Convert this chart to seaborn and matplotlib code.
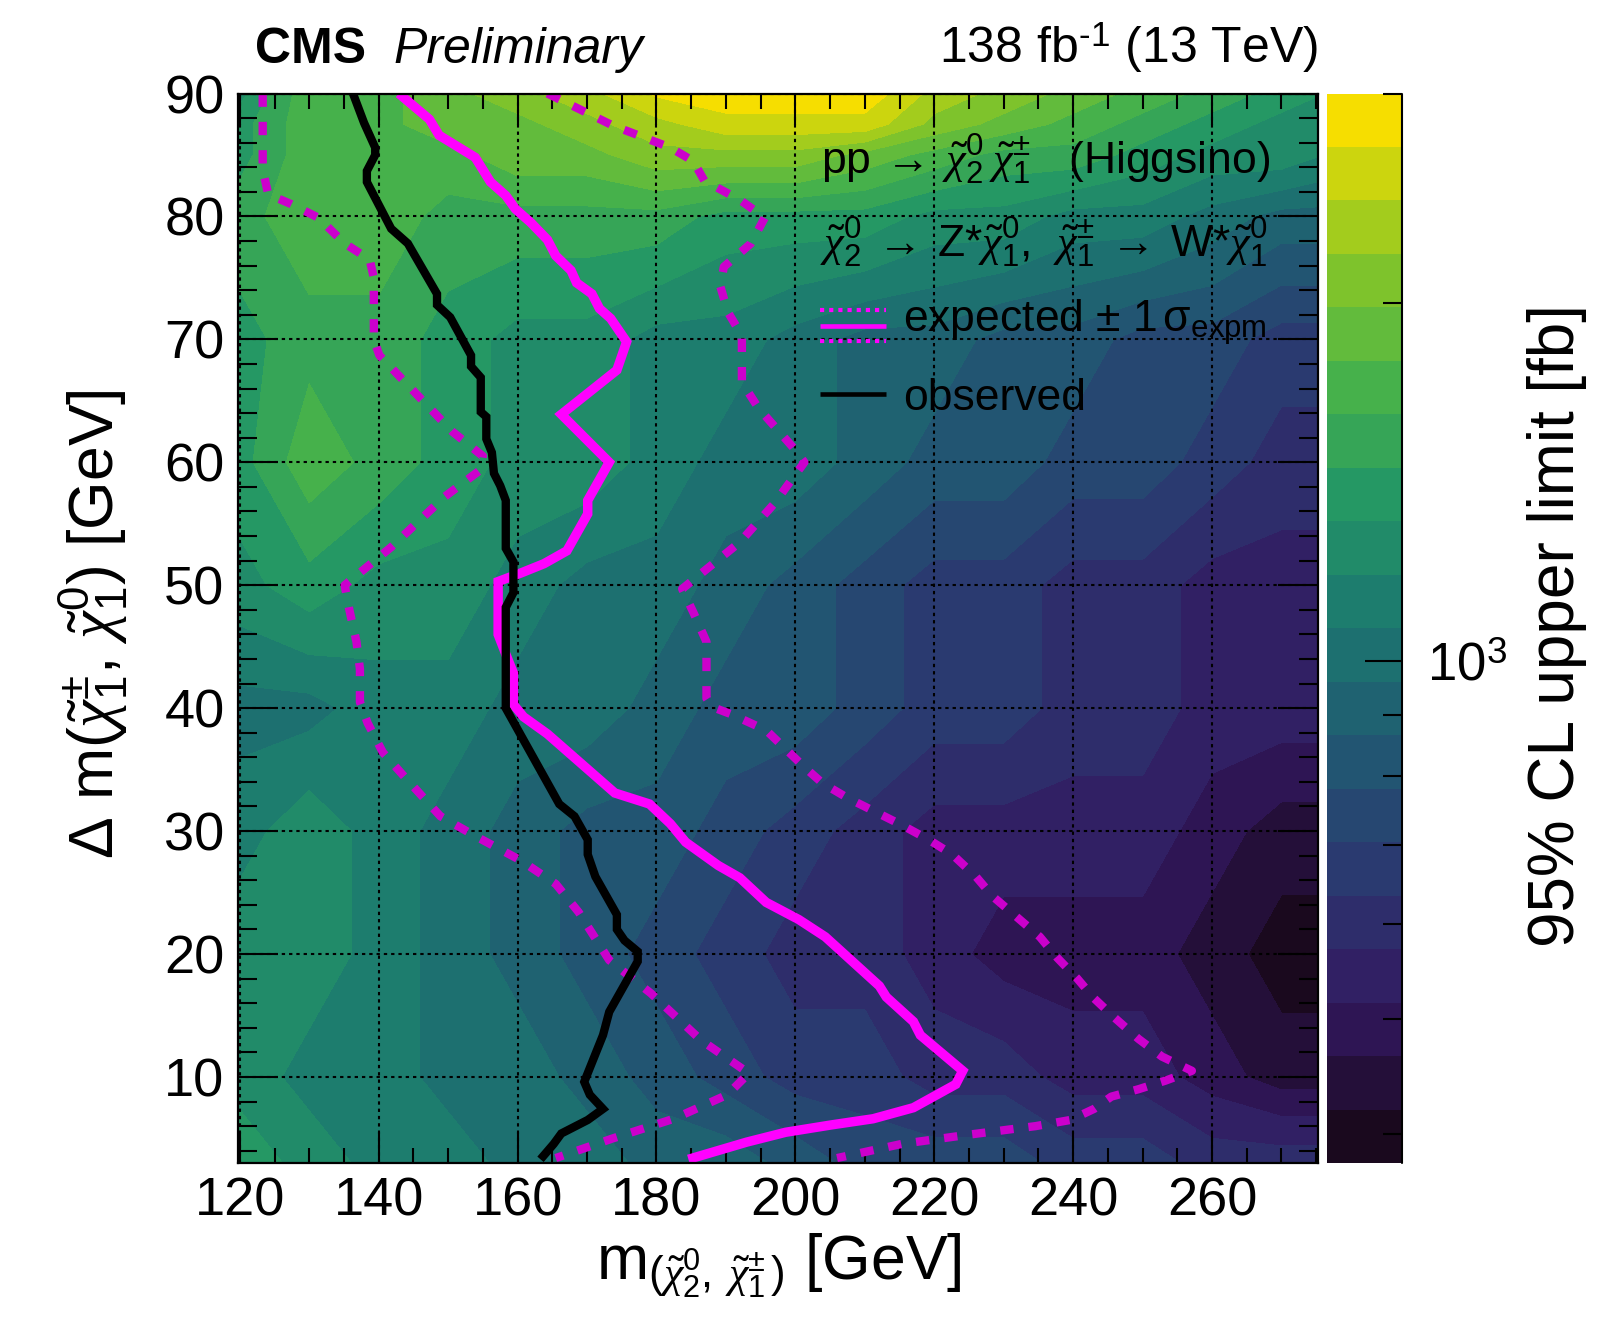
import numpy as np
import matplotlib
matplotlib.use("Agg")
import matplotlib.pyplot as plt
from matplotlib.colors import LinearSegmentedColormap, ListedColormap, LogNorm
from matplotlib.ticker import FixedLocator, MultipleLocator, NullFormatter
from matplotlib.lines import Line2D
import seaborn as sns

# ---------------------------------------------------------------------------
# Signal grid: mean chargino/neutralino mass and mass splitting (GeV)
mass_points = [120, 130, 140, 150, 160, 170, 180, 190, 200, 210,
               220, 230, 240, 250, 260, 270, 280]
dm_points = [3, 10, 20, 30, 40, 50, 60, 70, 80, 85, 87.5, 90]

# 95% CL upper limits on the cross section (fb), one row per mass splitting
ul_dm3 = [1390, 1260, 1130, 1130, 1020, 1020, 920, 920, 830, 745, 745, 745, 670, 670, 605, 605, 605]
ul_dm10 = [1260, 1130, 1130, 1020, 1020, 920, 830, 745, 670, 670, 605, 605, 545, 545, 490, 440, 440]
ul_dm20 = [1260, 1260, 1130, 1020, 920, 830, 745, 670, 605, 605, 545, 490, 490, 490, 440, 400, 400]
ul_dm30 = [1130, 1260, 1130, 1020, 920, 830, 830, 745, 670, 605, 545, 545, 545, 545, 490, 440, 440]
ul_dm40 = [1020, 1020, 1130, 1130, 1020, 1020, 920, 830, 830, 745, 670, 670, 605, 605, 545, 545, 545]
ul_dm50 = [1260, 1390, 1260, 1260, 1130, 1020, 1020, 920, 830, 745, 670, 670, 605, 605, 545, 545, 545]
ul_dm60 = [1390, 1720, 1550, 1390, 1260, 1260, 1130, 1020, 1020, 920, 830, 830, 745, 745, 670, 605, 605]
ul_dm70 = [1390, 1550, 1550, 1390, 1260, 1260, 1130, 1130, 1020, 920, 920, 830, 830, 745, 745, 670, 670]
ul_dm80 = [1550, 1720, 1720, 1550, 1550, 1550, 1550, 1390, 1390, 1390, 1260, 1260, 1130, 1130, 1020, 920, 920]
ul_dm85 = [1390, 1720, 1720, 1720, 1910, 1910, 2120, 2120, 2120, 1910, 1720, 1550, 1550, 1390, 1260, 1260, 1130]
ul_dm87 = [1390, 1720, 1720, 1910, 1910, 2120, 2350, 2600, 2600, 2600, 2120, 1910, 1720, 1550, 1390, 1260, 1260]
ul_dm90 = [1260, 1720, 1720, 1910, 2120, 2350, 2750, 2890, 2890, 2890, 2350, 2120, 1910, 1720, 1550, 1390, 1260]

# Exclusion contours (mass, mass splitting)
obs_mass = [136.3, 137.9, 139.5, 139.5, 138.3, 138.3, 141.8, 144.2, 148.4, 148.4, 150.3, 153.3,
            153.3, 154.7, 154.7, 155.5, 155.5, 156.3, 156.6, 157.5, 158.3, 158.3, 159.4, 159.4,
            158.3, 158.3, 166.0, 168.2, 170.1, 170.1, 171.2, 174.3, 174.3, 175.4, 177.3, 177.3,
            173.2, 172.3, 169.6, 170.4, 172.3, 170.1, 166.3, 165.2, 163.3]
obs_dm = [90.0, 87.6, 85.6, 85.0, 83.7, 82.8, 79.0, 77.8, 73.7, 72.8, 71.8, 68.7,
          67.8, 66.9, 64.1, 63.7, 61.9, 60.8, 59.1, 58.1, 56.9, 53.0, 51.9, 49.4,
          48.2, 40.0, 32.2, 31.2, 29.3, 28.1, 26.3, 23.2, 22.0, 21.1, 20.2, 19.4,
          15.3, 13.4, 9.6, 8.55, 7.4, 6.5, 5.4, 4.55, 3.3]

exp_mass = [142.9, 147.3, 148.7, 153.9, 156.1, 158.3, 159.7, 161.9, 164.3, 165.5, 167.7, 168.5,
            170.7, 171.8, 173.4, 175.7, 174.3, 166.3, 173.2, 170.1, 170.1, 167.1, 163.8, 160.5,
            157.2, 157.2, 158.3, 159.4, 159.4, 160.85, 164.3, 174.0, 179.0, 182.0, 184.2, 188.9,
            192.0, 195.8, 200.5, 204.3, 212.1, 213.1, 217.0, 218.0, 224.1, 223.1, 217.0, 211.2,
            205.2, 198.6, 193.0, 184.6]
exp_dm = [90.0, 87.9, 86.6, 84.8, 82.8, 81.7, 80.6, 79.5, 78.1, 76.8, 75.6, 74.6,
          73.7, 72.5, 71.7, 69.8, 67.5, 63.9, 60.0, 56.9, 55.8, 52.8, 51.75, 51.0,
          50.3, 46.0, 44.4, 42.85, 40.3, 39.3, 37.9, 33.1, 32.2, 30.6, 29.1, 27.2,
          26.2, 24.2, 22.8, 21.4, 17.4, 16.5, 14.5, 13.4, 10.5, 9.4, 7.5, 6.6,
          6.1, 5.5, 4.7, 3.3]

exp_minus_mass = [123.3, 123.3, 124.1, 127.4, 131.3, 135.1, 138.7, 139.3, 139.3, 140.1, 150.6, 155.0,
                  154.7, 149.5, 141.8, 135.1, 135.7, 136.8, 137.3, 137.3, 138.4, 140.6, 143.9, 148.9,
                  153.9, 160.5, 165.5, 168.8, 173.2, 179.2, 186.4, 193.3, 190.2, 182.5, 173.7, 165.5]
exp_minus_dm = [90.0, 83.8, 81.8, 81.0, 79.9, 77.8, 76.5, 75.0, 70.0, 68.7, 62.5, 60.5,
                59.4, 57.2, 53.1, 50.0, 48.2, 45.4, 43.2, 40.5, 38.8, 36.4, 34.3, 31.2,
                29.6, 27.6, 25.7, 23.4, 19.5, 16.8, 13.0, 10.3, 8.55, 6.6, 5.0, 3.4]

exp_plus_mass = [164.3, 173.7, 182.0, 185.3, 186.9, 192.0, 195.6, 193.6, 189.7, 189.2, 190.3, 192.3,
                 192.3, 194.7, 199.6, 201.3, 196.9, 192.0, 183.7, 185.3, 187.2, 187.2, 188.0, 190.8,
                 195.8, 201.3, 203.9, 207.5, 211.4, 215.3, 219.2, 222.6, 226.0, 228.4, 231.8, 235.2,
                 237.7, 240.6, 243.0, 246.0, 249.4, 252.8, 257.1, 253.3, 249.4, 245.5, 243.0, 239.6,
                 234.6, 224.9, 215.3, 206.0]
exp_plus_dm = [90.0, 87.4, 85.6, 84.5, 82.9, 81.35, 79.9, 77.8, 75.9, 74.3, 72.2, 70.3,
               66.5, 64.4, 61.25, 60.0, 56.6, 53.5, 49.7, 47.8, 45.4, 40.8, 40.1, 39.5,
               38.2, 35.2, 33.9, 32.7, 31.6, 30.5, 29.3, 28.1, 26.3, 24.7, 23.05, 21.4,
               19.7, 18.0, 16.4, 14.8, 13.1, 11.65, 10.5, 9.7, 9.0, 8.4, 7.4, 6.5,
               6.0, 5.3, 4.55, 3.4]

# ---------------------------------------------------------------------------
sns.set_theme(style="ticks")
plt.rcParams.update({
    "font.family": ["Liberation Sans", "DejaVu Sans"],
    "mathtext.fontset": "custom",
    "mathtext.rm": "Liberation Sans",
    "mathtext.it": "Liberation Serif:italic",
    "mathtext.bf": "Liberation Sans:bold",
    "mathtext.sf": "Liberation Sans",
    "axes.linewidth": 1.6,
    "axes.edgecolor": "black",
    "axes.labelcolor": "black",
    "text.color": "black",
    "xtick.color": "black",
    "ytick.color": "black",
    "axes.axisbelow": "line",
})

W, H = 1608, 1329
fig = plt.figure(figsize=(W / 100, H / 100), dpi=100)


def fx(px):
    return px / W


def fy(py):
    return 1 - py / H


ax_l, ax_r, ax_t, ax_b = 238.4, 1318.3, 93.5, 1163.0
ax = fig.add_axes([fx(ax_l), fy(ax_b), fx(ax_r) - fx(ax_l), fy(ax_t) - fy(ax_b)])
cax = fig.add_axes([fx(1327), fy(ax_b), fx(1402) - fx(1327), fy(ax_t) - fy(ax_b)])

# ROOT-style viridis palette, 20 discrete contour bands on a log scale
viridis_stops = [(26, 9, 30), (51, 24, 96), (43, 55, 112), (33, 87, 114), (28, 118, 112),
                 (35, 150, 101), (74, 180, 72), (144, 200, 35), (246, 222, 0)]
base = LinearSegmentedColormap.from_list(
    "root_viridis", [tuple(c / 255 for c in rgb) for rgb in viridis_stops])
n_bands = 20
cmap = ListedColormap(base(np.linspace(0, 1, n_bands)))
zmin, zmax = 378.0, 3000.0
levels = np.logspace(np.log10(zmin), np.log10(zmax), n_bands + 1)
norm = LogNorm(vmin=zmin, vmax=zmax)

limit_grid = np.array([ul_dm3, ul_dm10, ul_dm20, ul_dm30, ul_dm40, ul_dm50,
                       ul_dm60, ul_dm70, ul_dm80, ul_dm85, ul_dm87, ul_dm90], dtype=float)
cs = ax.contourf(mass_points, dm_points, limit_grid, levels=levels, cmap=cmap,
                 norm=norm, zorder=0.5, antialiased=False)

# Contours: +-1 sigma (dashed), expected (solid magenta), observed (black)
curves = [
    (exp_minus_mass, exp_minus_dm, "#cc00cc", 6.0, (0, (1.6, 1.8))),
    (exp_plus_mass, exp_plus_dm, "#cc00cc", 6.0, (0, (1.6, 1.8))),
    (exp_mass, exp_dm, "#ff00ff", 6.8, "-"),
    (obs_mass, obs_dm, "black", 6.0, "-"),
]
for xs, ys, col, lw, ls in curves:
    sns.lineplot(x=xs, y=ys, sort=False, estimator=None, color=col,
                 linewidth=lw, ax=ax, legend=False, zorder=3)
    ln = ax.lines[-1]
    ln.set_linestyle(ls)
    ln.set_dash_capstyle("butt")
    ln.set_solid_capstyle("butt")
    ln.set_solid_joinstyle("miter")

ax.set_xlim(119.8, 275.3)
ax.set_ylim(3, 90)
ax.xaxis.set_major_locator(MultipleLocator(20))
ax.xaxis.set_minor_locator(MultipleLocator(5))
ax.yaxis.set_major_locator(MultipleLocator(10))
ax.yaxis.set_minor_locator(MultipleLocator(2))
ax.tick_params(which="both", direction="in", top=True, right=True, width=1.5,
               labelsize=39)
ax.tick_params(axis="x", which="major", length=22, pad=10)
ax.tick_params(axis="x", which="minor", length=11)
ax.tick_params(axis="y", which="major", length=29, pad=10)
ax.tick_params(axis="y", which="minor", length=14)
ax.grid(True, which="major", color="black", linestyle=(0, (1.6, 1.9)), linewidth=1.5)
for sp in ax.spines.values():
    sp.set_zorder(4)

ax.set_xlabel(r"m$_{(\tilde{\chi}^{0}_{2},\;\tilde{\chi}^{\pm}_{1}\,)}$ [GeV]", fontsize=45)
ax.xaxis.set_label_coords(0.5, -0.064)
ax.set_ylabel(r"$\Delta$ m($\tilde{\chi}^{\pm}_{1}$, $\tilde{\chi}^{0}_{1}$) [GeV]", fontsize=45)
ax.yaxis.set_label_coords(-0.135, 0.504)
ax.yaxis.label.set_va("center")

# Colour scale
cb = fig.colorbar(cs, cax=cax)
cb.outline.set_visible(False)
cb.set_ticks([1000], labels=[r"$10^{3}$"])
cax.yaxis.set_minor_locator(FixedLocator([400, 500, 600, 700, 800, 900, 2000, 3000]))
cax.yaxis.set_minor_formatter(NullFormatter())
cax.tick_params(which="both", direction="in", right=True, left=False, width=1.5,
                labelsize=38, pad=18)
cax.tick_params(which="major", length=27)
cax.tick_params(which="minor", length=14)
cax.plot([1, 1], [0, 1], transform=cax.transAxes, color="black", lw=1.5, clip_on=False)
cb.set_label("95% CL upper limit [fb]", fontsize=46)
cax.yaxis.set_label_coords(3.067, 0.5025)
cax.yaxis.label.set_va("center")

# Header
fig.text(fx(255), fy(63), "CMS", fontsize=36, fontweight="bold", va="baseline", ha="left")
fig.text(fx(393), fy(63), "Preliminary", fontsize=36, style="italic", va="baseline", ha="left")
fig.text(fx(1318), fy(63), "138 fb$^{\u20101}$ (13 TeV)", fontsize=36, va="baseline", ha="right")

# Legend block
leg_fs = 32
fig.text(fx(821), fy(173.6),
         r"pp$\;\rightarrow\;\tilde{\chi}^{0}_{2}\;\tilde{\chi}^{\pm}_{1}$   (Higgsino)",
         fontsize=leg_fs, va="baseline")
fig.text(fx(820), fy(256.8),
         r"$\tilde{\chi}^{0}_{2}\;\rightarrow\;$Z*$\tilde{\chi}^{0}_{1}$,  "
         r"$\tilde{\chi}^{\pm}_{1}\;\rightarrow\;$W*$\tilde{\chi}^{0}_{1}$",
         fontsize=leg_fs, va="baseline")
fig.text(fx(903), fy(331.8), r"expected $\pm$ 1$\,\mathrm{\sigma}_{\mathrm{expm}}$",
         fontsize=leg_fs, va="baseline")
fig.text(fx(903), fy(410), "observed", fontsize=leg_fs, va="baseline")

sym_x = [fx(820), fx(886)]
for yy, lw, ls in [(310.4, 3.0, (0, (1.0, 1.2))), (325.7, 3.3, "-"), (340.7, 3.0, (0, (1.0, 1.2)))]:
    fig.add_artist(Line2D(sym_x, [fy(yy), fy(yy)], transform=fig.transFigure,
                          color="#ff00ff", lw=lw, linestyle=ls, solid_capstyle="butt",
                          dash_capstyle="butt"))
fig.add_artist(Line2D(sym_x, [fy(394.3), fy(394.3)], transform=fig.transFigure,
                      color="black", lw=3.3, solid_capstyle="butt"))

fig.savefig("out.png", dpi=100)
